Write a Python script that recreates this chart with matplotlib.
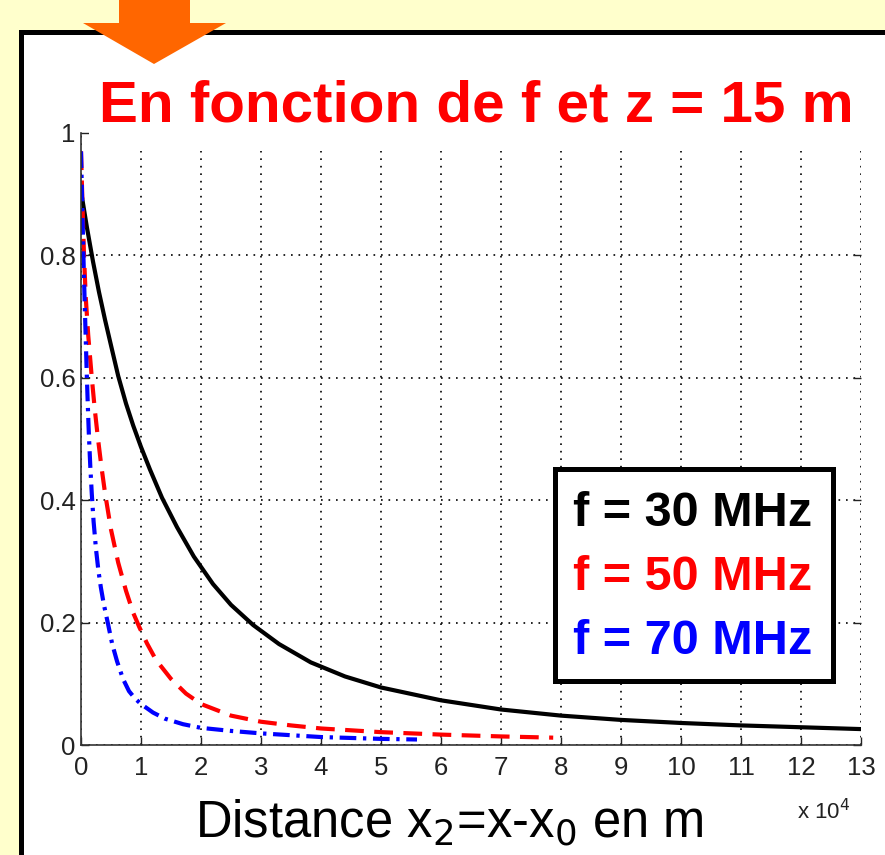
import numpy as np
import matplotlib
matplotlib.use("Agg")
import matplotlib.pyplot as plt
from matplotlib.patches import Rectangle, Polygon

plt.rcParams['font.family'] = ['Liberation Sans', 'DejaVu Sans']

# ---- donnees (x en unites de 1e4 m) ----
x_30 = [0, 0.1, 0.2, 0.3, 0.4, 0.5, 0.62, 0.75, 0.87, 1.0, 1.15, 1.35, 1.6, 1.88,
        2.2, 2.5, 2.87, 3.3, 3.83, 4.4, 5, 6, 7, 8, 9, 10, 11, 12, 13]
y_30 = [0.905, 0.845, 0.790, 0.740, 0.695, 0.653, 0.603, 0.558, 0.522, 0.487, 0.450,
        0.404, 0.356, 0.308, 0.263, 0.229, 0.196, 0.165, 0.135, 0.112, 0.094, 0.073,
        0.058, 0.048, 0.041, 0.036, 0.032, 0.029, 0.026]

x_50 = [0, 0.02, 0.05, 0.08, 0.12, 0.18, 0.23, 0.28, 0.34, 0.40, 0.5, 0.62, 0.75,
        0.87, 0.97, 1.1, 1.25, 1.5, 1.75, 2, 2.5, 3, 3.5, 4, 5, 6, 7, 7.87]
y_50 = [0.97, 0.90, 0.80, 0.73, 0.67, 0.60, 0.548, 0.503, 0.455, 0.412, 0.352, 0.298,
        0.252, 0.216, 0.193, 0.166, 0.139, 0.108, 0.084, 0.067, 0.048, 0.038, 0.032,
        0.027, 0.021, 0.017, 0.014, 0.012]

x_70 = [0, 0.02, 0.04, 0.06, 0.08, 0.095, 0.11, 0.13, 0.155, 0.18, 0.21, 0.25, 0.29,
        0.33, 0.38, 0.45, 0.52, 0.6, 0.7, 0.8, 0.9, 1.0, 1.2, 1.4, 1.7, 2.0, 2.5, 3,
        4, 5, 5.6]
y_70 = [0.97, 0.885, 0.80, 0.728, 0.66, 0.61, 0.565, 0.51, 0.455, 0.41, 0.365, 0.32,
        0.285, 0.258, 0.23, 0.198, 0.165, 0.137, 0.108, 0.088, 0.076, 0.067, 0.053,
        0.043, 0.034, 0.028, 0.023, 0.019, 0.013, 0.010, 0.009]

labels = ['f = 30 MHz', 'f = 50 MHz', 'f = 70 MHz']
colors = ['black', '#ff0000', '#0000ff']
xticks = list(range(0, 14))
yticks = [0, 0.2, 0.4, 0.6, 0.8, 1]

W, H = 885, 855
fig = plt.figure(figsize=(W / 100, H / 100), dpi=100, facecolor='#ffffcc')

def fx(px):
    return px / W

def fy(py):
    return 1 - py / H

# cadre noir + fond blanc
fig.patches.append(Rectangle((fx(20.5), fy(900)), fx(940), (900 - 32) / H,
                             transform=fig.transFigure, facecolor='white',
                             edgecolor='black', lw=3.6, zorder=-5))

ax = fig.add_axes([fx(81), fy(745), fx(861 - 81), (745 - 133) / H], zorder=0)
ax.set_facecolor('white')

ax.plot(x_30, y_30, color=colors[0], lw=3.0, solid_joinstyle='round')
ax.plot(x_50, y_50, color=colors[1], lw=3.0, linestyle=(0, (4.5, 2.5)))
ax.plot(x_70, y_70, color=colors[2], lw=3.0, linestyle=(0, (4, 1.6, 0.8, 1.6)))

ax.set_xlim(0, 13)
ax.set_ylim(0, 1)
ax.set_xticks(xticks)
ax.set_xticklabels([str(t) for t in xticks])
ax.set_yticks(yticks)
ax.set_yticklabels(['0', '0.2', '0.4', '0.6', '0.8', '1'])
ax.grid(True, color='black', lw=1.2, linestyle=(0, (1, 3.5)))
ax.tick_params(direction='in', length=6, width=1, labelsize=18.5, colors='#222222',
               right=True)
ax.tick_params(axis='x', pad=8)
ax.tick_params(axis='y', pad=4)
for s in ['top', 'right']:
    ax.spines[s].set_visible(False)
for s in ['left', 'bottom']:
    ax.spines[s].set_linewidth(1.2)
    ax.spines[s].set_color('#333333')

# masque blanc sous le titre
fig.patches.append(Rectangle((fx(89), fy(151)), fx(900), (151 - 36) / H,
                             transform=fig.transFigure, facecolor='white',
                             edgecolor='none', zorder=1))

fig.text(fx(476), fy(122), 'En fonction de f et z = 15 m', color='#ff0000',
         fontsize=42, fontweight='bold', ha='center', va='baseline', zorder=3)

# fleche orange
arrow = [(119, -5), (190, -5), (190, 23), (226, 23), (154, 64), (83, 23), (119, 23)]
fig.patches.append(Polygon([(fx(a), fy(b)) for a, b in arrow], closed=True,
                           transform=fig.transFigure, facecolor='#ff6600',
                           edgecolor='none', zorder=4))

fig.text(fx(195), fy(837), 'Distance x$_2$=x-x$_0$ en m', fontsize=36.5,
         ha='left', va='baseline', color='black')
fig.text(fx(797), fy(819), 'x 10$^4$', fontsize=16, ha='left', va='baseline',
         color='#222222')

# legende
fig.patches.append(Rectangle((fx(555), fy(681)), fx(833 - 555), (681 - 469) / H,
                             transform=fig.transFigure, facecolor='white',
                             edgecolor='black', lw=3.6, zorder=2))
for i, (lab, c) in enumerate(zip(labels, colors)):
    fig.text(fx(573), fy(526 + 64 * i), lab, color=c, fontsize=35,
             fontweight='bold', ha='left', va='baseline', zorder=3)

fig.savefig('out.png', dpi=100, facecolor=fig.get_facecolor())
